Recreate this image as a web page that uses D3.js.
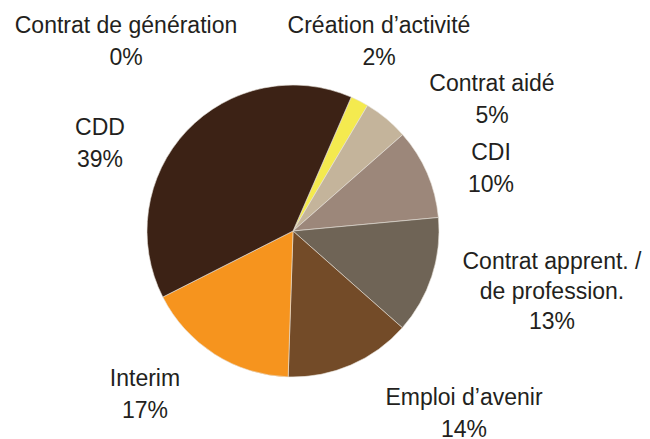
<!DOCTYPE html>
<html>
<head>
<meta charset="utf-8">
<script src="https://cdn.jsdelivr.net/npm/d3@7"></script>
<style>
  body { margin: 0; background: #fff; }
  text { font-family: "Liberation Sans", Arial, sans-serif; font-size: 23px; fill: #231f20; }
</style>
</head>
<body>
<script>
// slices, clockwise from the yellow one
var categories = ["Création d\u2019activité", "Contrat aidé", "CDI", "Contrat apprent. / de profession.", "Emploi d\u2019avenir", "Interim", "CDD", "Contrat de génération"];
var values = [2, 5, 10, 13, 14, 17, 39, 0];
var labelLines = [
  ["Création d\u2019activité", "2%"],
  ["Contrat aidé", "5%"],
  ["CDI", "10%"],
  ["Contrat apprent. /", "de profession.", "13%"],
  ["Emploi d\u2019avenir", "14%"],
  ["Interim", "17%"],
  ["CDD", "39%"],
  ["Contrat de génération", "0%"]
];
var colors = ["#f4ea4f", "#c4b49b", "#9c877a", "#6f6456", "#734b28", "#f6941e", "#3c2215", "#999999"];

// where each label block sits (centre x, first baseline y)
var labelPos = [[379, 33], [492, 91], [491, 160], [552, 269], [464, 405], [145, 386], [100, 135], [126, 33]];

var width = 650, height = 439;
var cx = 293, cy = 231, radius = 146;

var svg = d3.select("body").append("svg")
  .attr("width", width)
  .attr("height", height);

var data = categories.map(function(c, i){ return {key: c, value: values[i], color: colors[i], lines: labelLines[i]}; });

var start = 23.5 * Math.PI / 180;
var pie = d3.pie()
  .sort(null)
  .value(function(d){ return d.value; })
  .startAngle(start)
  .endAngle(start + 2 * Math.PI);

var arc = d3.arc().innerRadius(0).outerRadius(radius);

var g = svg.append("g").attr("transform", "translate(" + cx + "," + cy + ")");

g.selectAll("path")
  .data(pie(data).filter(function(d){ return d.value > 0; }))
  .enter().append("path")
  .attr("d", arc)
  .attr("fill", function(d){ return d.data.color; })
  .attr("stroke", "#e8e2da")
  .attr("stroke-width", 0.6);

var labels = svg.selectAll(".lbl")
  .data(data)
  .enter().append("text")
  .attr("class", "lbl")
  .attr("text-anchor", "middle")
  .attr("x", function(d, i){ return labelPos[i][0]; })
  .attr("y", function(d, i){ return labelPos[i][1]; });

labels.each(function(d, i){
  var t = d3.select(this);
  d.lines.forEach(function(line, j){
    t.append("tspan")
      .attr("x", labelPos[i][0])
      .attr("dy", j === 0 ? 0 : (d.lines.length > 2 ? 30 : 31.5))
      .text(line);
  });
});
</script>
</body>
</html>
